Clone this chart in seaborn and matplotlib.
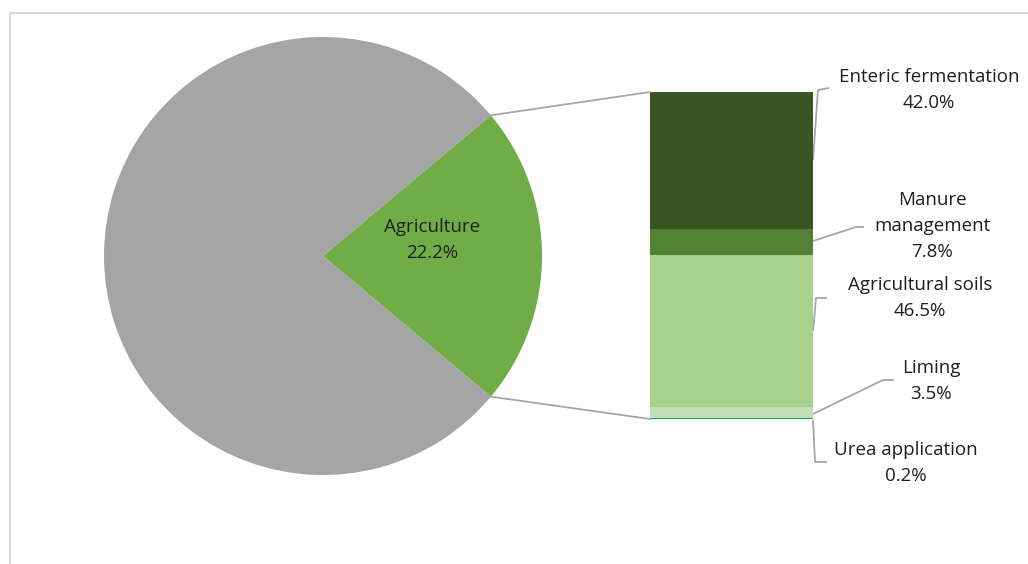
import numpy as np
import matplotlib
matplotlib.use("Agg")
import matplotlib.pyplot as plt
import seaborn as sns
from matplotlib.patches import ConnectionPatch, Rectangle

# ---- data ----
pie_labels = ["Agriculture", "Other"]
pie_values = [22.2, 77.8]
sub_labels = ["Enteric fermentation", "Manure\nmanagement", "Agricultural soils", "Liming", "Urea application"]
sub_values = [42.0, 7.8, 46.5, 3.5, 0.2]

pie_colors = ["#70AD47", "#A5A5A5"]
sub_colors = ["#375623", "#548235", "#A9D18E", "#C5E0B4", "#00B050"]
line_color = "#A6A6A6"
text_color = "#1F1F1F"

sns.set_theme(style="white")
plt.rcParams['font.family'] = ['Open Sans', 'DejaVu Sans']

W, H = 1028, 564
FS = 13.5
LS = 1.58
fig = plt.figure(figsize=(W / 100, H / 100), dpi=100)
fig.patch.set_facecolor("white")

# main pixel-coordinate axes
ax = fig.add_axes([0, 0, 1, 1])

# chart frame (extends beyond right/bottom)
ax.add_patch(Rectangle((10, 13), W + 20, H + 20, fill=False, edgecolor="#D9D9D9", lw=1.5))

cx, cy, r = 323, 256, 219
start = -pie_values[0] / 100 * 360 / 2
wedges, _ = ax.pie(pie_values, colors=pie_colors, startangle=start, center=(cx, cy),
                   radius=r, wedgeprops=dict(linewidth=0), frame=True)
ax.set_xlim(0, W)
ax.set_ylim(H, 0)
ax.set_aspect("equal")
ax.axis("off")
ax.text(432, 240, f"{pie_labels[0]}\n{pie_values[0]:.1f}%", ha="center", va="center",
        fontsize=FS, color=text_color, linespacing=LS)

# stacked bar axes
bx0, bx1, by0, by1 = 650, 813, 92, 419
bax = fig.add_axes([bx0 / W, 1 - by1 / H, (bx1 - bx0) / W, (by1 - by0) / H])
bax.axis("off")
bottom = 0
for v, c in zip(sub_values[::-1], sub_colors[::-1]):
    bax.bar(0, v, bottom=bottom, width=1, color=c, linewidth=0)
    bottom += v
bax.set_xlim(-0.5, 0.5)
bax.set_ylim(0, 100)

# connection lines from pie edge to bar
ang = np.deg2rad(pie_values[0] / 100 * 360 / 2)
p_top = (cx + r * np.cos(ang), cy - r * np.sin(ang))
p_bot = (cx + r * np.cos(ang), cy + r * np.sin(ang))
for p, yb in [(p_top, 100), (p_bot, 0)]:
    con = ConnectionPatch(xyA=p, coordsA=ax.transData, xyB=(-0.5, yb), coordsB=bax.transData,
                          color=line_color, lw=1.3)
    fig.add_artist(con)

# leader lines and labels (pixel coords)
leaders = [
    [(813, 160), (818, 90), (829, 88)],
    [(813, 241), (856, 227), (864, 227)],
    [(813, 331), (816, 298), (827, 298)],
    [(813, 414), (883, 380), (894, 380)],
    [(813, 420), (815, 462), (827, 462)],
]
label_pos = [(929, 90), (932, 226), (920, 298), (931, 381), (906, 463)]
for pts, (tx, ty), lab, v in zip(leaders, label_pos, sub_labels, sub_values):
    xs, ys = zip(*pts)
    ax.plot(xs, ys, color=line_color, lw=1.3, solid_capstyle="butt")
    ax.text(tx, ty, f"{lab}\n{v:.1f}%", ha="center", va="center", fontsize=FS,
            color=text_color, linespacing=LS)

fig.savefig("out.png", dpi=100, facecolor="white")
